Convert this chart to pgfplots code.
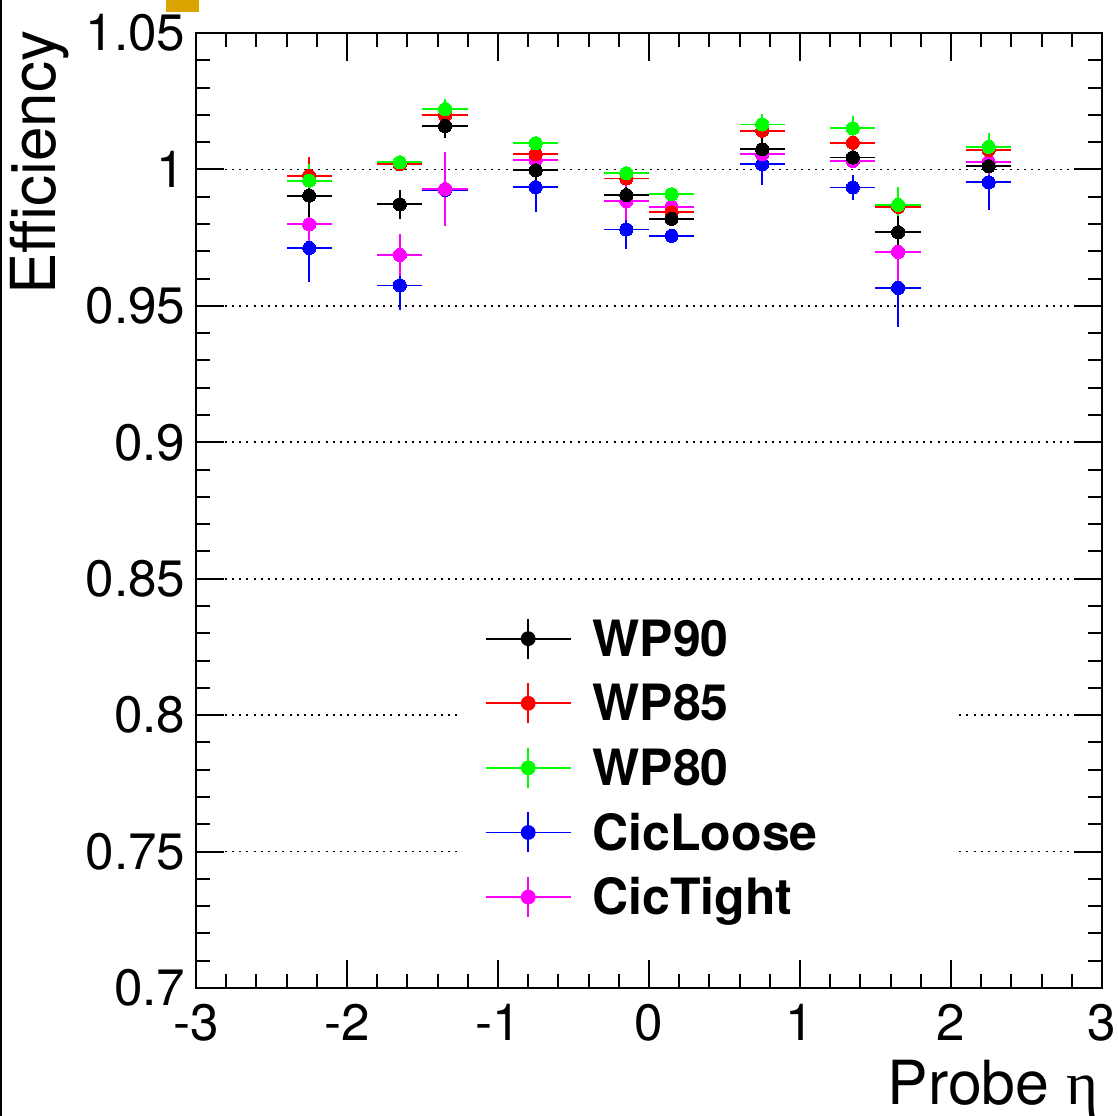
\documentclass[border=0pt]{standalone}
\usepackage{fontspec}
\setmainfont{TeX Gyre Heros}
\newfontfamily\greekfont{Liberation Serif}
\usepackage{pgfplots}
\usepackage{pgfplotstable}
\pgfplotsset{compat=1.18}
\definecolor{rootgold}{RGB}{218,165,0}
\definecolor{rootgreen}{RGB}{0,255,0}
\definecolor{rootmagenta}{RGB}{255,0,255}
\definecolor{rootblue}{RGB}{0,0,255}
\definecolor{rootred}{RGB}{255,0,0}

% x  y  ex  ey
\pgfplotstableread{
x y ex ey
-2.25 0.9904 0.15 0.0077
-1.65 0.9872 0.15 0.0054
-1.35 1.0159 0.15 0.0042
-0.75 0.9997 0.15 0.0040
-0.15 0.9906 0.15 0.0030
0.15 0.9819 0.15 0.0015
0.75 1.0074 0.15 0.0050
1.35 1.0044 0.15 0.0020
1.65 0.9770 0.15 0.0060
2.25 1.0012 0.15 0.0020
}\wpninety
\pgfplotstableread{
x y ex ey
-2.25 0.9977 0.15 0.0067
-1.65 1.0019 0.15 0.0010
-1.35 1.0199 0.15 0.0030
-0.75 1.0056 0.15 0.0020
-0.15 0.9967 0.15 0.0015
0.15 0.9843 0.15 0.0015
0.75 1.0142 0.15 0.0030
1.35 1.0098 0.15 0.0030
1.65 0.9863 0.15 0.0020
2.25 1.0071 0.15 0.0040
}\wpeightyfive
\pgfplotstableread{
x y ex ey
-2.25 0.9959 0.15 0.0060
-1.65 1.0026 0.15 0.0010
-1.35 1.0221 0.15 0.0037
-0.75 1.0096 0.15 0.0025
-0.15 0.9986 0.15 0.0010
0.15 0.9909 0.15 0.0010
0.75 1.0165 0.15 0.0040
1.35 1.0151 0.15 0.0045
1.65 0.9870 0.15 0.0065
2.25 1.0083 0.15 0.0050
}\wpeighty
\pgfplotstableread{
x y ex ey
-2.25 0.9712 0.15 0.0123
-1.65 0.9575 0.15 0.0090
-1.35 0.9925 0.15 0.0060
-0.75 0.9935 0.15 0.0090
-0.15 0.9780 0.15 0.0072
0.15 0.9757 0.15 0.0010
0.75 1.0019 0.15 0.0076
1.35 0.9934 0.15 0.0046
1.65 0.9566 0.15 0.0144
2.25 0.9953 0.15 0.0102
}\cicloose
\pgfplotstableread{
x y ex ey
-2.25 0.9799 0.15 0.0094
-1.65 0.9687 0.15 0.0076
-1.35 0.9928 0.15 0.0136
-0.75 1.0034 0.15 0.0030
-0.15 0.9884 0.15 0.0070
0.15 0.9863 0.15 0.0015
0.75 1.0056 0.15 0.0040
1.35 1.0031 0.15 0.0020
1.65 0.9698 0.15 0.0120
2.25 1.0028 0.15 0.0073
}\cictight

\pgfplotsset{
  rootpts/.style={
    only marks, mark=*, mark size=1.65pt,
    color=#1, mark options={fill=#1, draw=#1, line width=0pt},
    error bars/.cd, x dir=both, x explicit, y dir=both, y explicit,
    error mark=none, error bar style={#1, line width=0.45pt},
    /pgfplots/.cd
  },
  rootleg/.style={
    legend image code/.code={
      \draw[#1, line width=0.45pt] (0pt,0pt) -- (21.25pt,0pt) (10.625pt,-5pt) -- (10.625pt,5pt);
      \fill[#1] (10.625pt,0pt) circle (1.65pt);
    }
  }
}

\begin{document}
\begin{tikzpicture}
\useasboundingbox (-49pt,-32pt) rectangle (230.5pt,247pt);
\draw[line width=0.4pt] (-48.8pt,-32pt) -- (-48.8pt,247pt);
\fill[rootgold] (-7.5pt,244pt) rectangle (0.75pt,247pt);
\begin{axis}[
  scale only axis, width=226.5pt, height=238.75pt,
  xmin=-3, xmax=3, ymin=0.7, ymax=1.05,
  xtick={-3,-2,-1,0,1,2,3}, xticklabels={-3,-2,-1,0,1,2,3},
  ytick={0.7,0.75,0.8,0.85,0.9,0.95,1,1.05},
  yticklabels={0.7,0.75,0.8,0.85,0.9,0.95,1,1.05},
  minor x tick num=4, minor y tick num=4,
  tick align=inside, major tick length=7pt, minor tick length=3.6pt,
  every tick/.style={black, line width=0.5pt},
  axis line style={line width=0.7pt},
  ymajorgrids, major grid style={black, line width=0.45pt, dash pattern=on 0.5pt off 1.3pt},
  tick label style={font=\fontsize{12.8}{14}\selectfont},
  yticklabel style={anchor=east, inner sep=0pt, xshift=-2.5pt},
  xticklabel style={anchor=north, inner sep=0pt, yshift=-3.75pt},
  xlabel={Probe {\greekfont η}},
  xlabel style={font=\fontsize{15.2}{17}\selectfont, at={(rel axis cs:1,0)}, anchor=base east, inner sep=0pt, xshift=-0.75pt, yshift=-29.25pt},
  ylabel={Efficiency},
  ylabel style={font=\fontsize{15.5}{17}\selectfont, at={([xshift=-35pt,yshift=0.75pt]rel axis cs:0,1)}, anchor=base east, inner sep=0pt},
  legend style={draw=none, fill=none, at={(rel axis cs:0.3179,0.3885)}, anchor=north west,
    inner sep=0pt, column sep=5.25pt, row sep=5.7pt,
    font=\bfseries\fontsize{12.5}{14}\selectfont,
    nodes={inner sep=0pt, text height=8.8pt, text depth=0pt}},
  legend cell align=left,
]
\fill[white] (axis cs:-1.243,0.7213) rectangle (axis cs:2.045,0.844);
\addplot[forget plot, rootpts=rootblue] table[x=x, y=y, x error=ex, y error=ey] {\cicloose};
\addplot[forget plot, rootpts=rootmagenta] table[x=x, y=y, x error=ex, y error=ey] {\cictight};
\addplot[forget plot, rootpts=rootred] table[x=x, y=y, x error=ex, y error=ey] {\wpeightyfive};
\addplot[forget plot, rootpts=rootgreen] table[x=x, y=y, x error=ex, y error=ey] {\wpeighty};
\addplot[forget plot, rootpts=black] table[x=x, y=y, x error=ex, y error=ey] {\wpninety};
\addlegendimage{rootleg=black}
\addlegendentry{WP90}
\addlegendimage{rootleg=rootred}
\addlegendentry{WP85}
\addlegendimage{rootleg=rootgreen}
\addlegendentry{WP80}
\addlegendimage{rootleg=rootblue}
\addlegendentry{CicLoose}
\addlegendimage{rootleg=rootmagenta}
\addlegendentry{CicTight}
\end{axis}
\end{tikzpicture}
\end{document}
